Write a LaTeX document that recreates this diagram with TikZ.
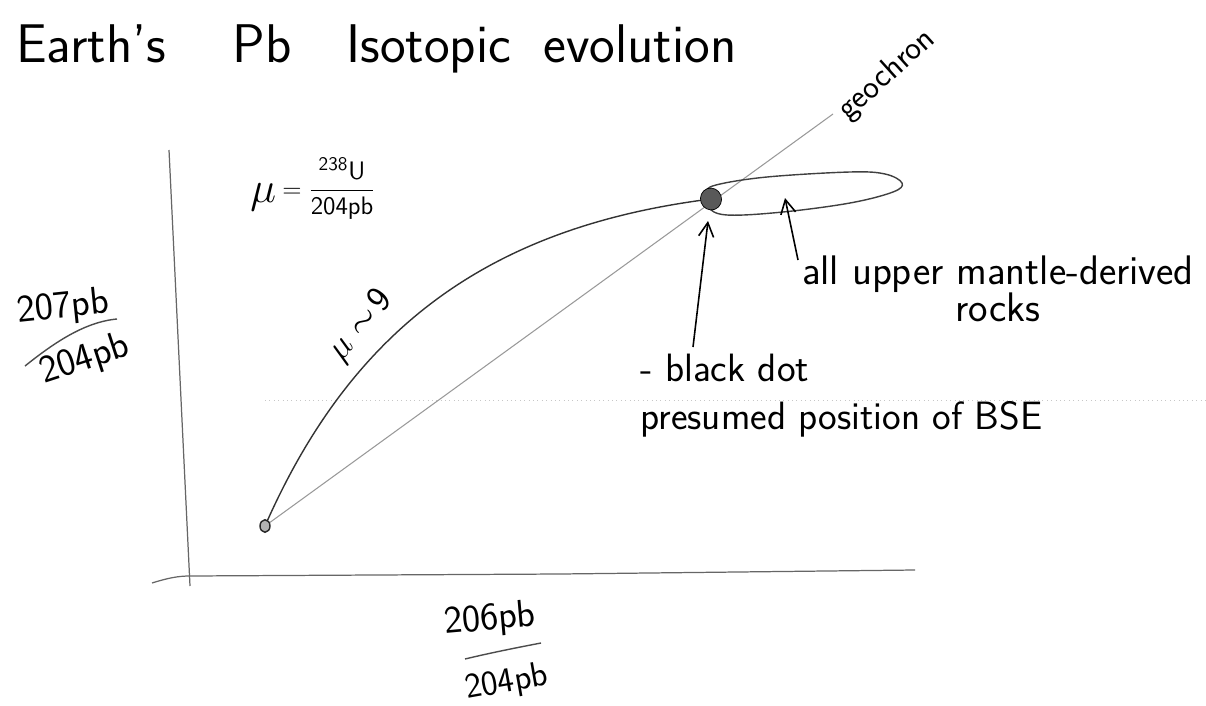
\documentclass[tikz,border=0pt]{standalone}
\usetikzlibrary{arrows.meta,shapes.geometric}
\begin{document}
\begin{tikzpicture}[x=0.02cm,y=-0.02cm,
  titletext/.style={font=\sffamily\fontsize{31}{36}\selectfont, inner sep=0pt, anchor=base west},
  hand/.style={font=\sffamily\fontsize{22.5}{27}\selectfont, inner sep=0pt},
  axislabel/.style={font=\sffamily\fontsize{22}{26}\selectfont, inner sep=0pt},
  axisline/.style={draw=black!60, line width=0.7pt},
  evocurve/.style={draw=black!80, line width=0.8pt},
  isoline/.style={draw=black!40, line width=0.6pt},
  loopline/.style={draw=black!75, line width=0.8pt},
  fracbar/.style={draw=black!70, line width=0.8pt},
  pointer/.style={-{Straight Barb[length=2.8mm,width=3mm]}, draw=black, line width=0.9pt},
  bigdot/.style={ellipse, draw=black, fill=black!65, minimum width=0.42cm, minimum height=0.44cm, inner sep=0pt},
  smalldot/.style={ellipse, draw=black!85, fill=black!30, line width=0.8pt, minimum width=0.2cm, minimum height=0.25cm, inner sep=0pt}
]
\useasboundingbox (0,0) rectangle (1206,706);

% title
\node[titletext] (t1) at (16,63) {Earth's};
\node[titletext] (t2) at (232,63) {Pb};
\node[titletext] (t3) at (346,63) {Isotopic};
\node[titletext] (t4) at (543,63) {evolution};

% faint scan line
\draw[black!22, dotted, line width=0.5pt] (265,400) -- (1206,400);

% axes
\draw[axisline] (169,150) -- (190,586);
\draw[axisline] (152,583) .. controls (168,578) and (178,576) .. (190,576) -- (560,574) -- (915,570);

% key points
\coordinate (o) at (265,526);
\coordinate (b) at (711,199);
\coordinate (gtop) at (833,114);

% geochron and evolution curve
\draw[isoline] (o) -- (gtop);
\draw[evocurve] (o) .. controls (352,328) and (489,227) .. (b);

% field of upper mantle rocks
\draw[loopline] plot[smooth cycle, tension=0.6] coordinates {(706,193) (716,185) (767,177) (850,172) (885,174) (902,183) (893,192) (850,203) (783,212) (727,215) (708,207)};

% dots
\node[bigdot, rotate=20] (bse) at (b) {};
\node[smalldot] (origin) at (o) {};

% geochron label
\node[font=\sffamily\fontsize{19}{22}\selectfont, inner sep=0pt, rotate=42] (glabel) at (887,75) {geochron};

% mu definition
\node[font=\fontsize{24}{28}\selectfont, inner sep=0pt, anchor=base west] (mu) at (250,202) {$\mu$};
\node[font=\fontsize{15}{18}\selectfont, inner sep=0pt, anchor=base west] (mufrac) at (282,197) {$\displaystyle=\frac{^{\mathsf{238}}\mathsf{U}}{\mathsf{204pb}}$};

% mu ~ 9 on curve
\node[font=\sffamily\fontsize{20}{24}\selectfont, inner sep=0pt, rotate=50] (mu9) at (361,326) {$\mu\sim\!\mathsf{9}$};

% y axis label
\node[axislabel, rotate=6] (ynum) at (63,308) {207pb};
\draw[fracbar] (25,366) .. controls (55,342) and (85,322) .. (117,319);
\node[axislabel, rotate=18] (yden) at (85,360) {204pb};

% x axis label
\node[axislabel, rotate=5] (xnum) at (490,620) {206pb};
\draw[fracbar] (465,659) .. controls (490,653) and (515,648) .. (541,643);
\node[axislabel, font=\sffamily\fontsize{20}{24}\selectfont, rotate=10] (xden) at (507,683) {204pb};

% annotations
\node[hand, anchor=north, align=center, font=\sffamily\fontsize{23.5}{21.6}\selectfont] (mantlelabel) at (998,255) {all upper mantle-derived\\rocks};
\node[hand, anchor=north west, align=left] (bselabel) at (640,354) {- black dot\\presumed position of BSE};

% pointers
\coordinate (bsetail) at (693,347);
\coordinate (bsetip) at (708,221);
\coordinate (mtail) at (798,260);
\coordinate (mtip) at (785,198);
\draw[pointer] (bsetail) -- (bsetip);
\draw[pointer] (mtail) -- (mtip);
\end{tikzpicture}
\end{document}
